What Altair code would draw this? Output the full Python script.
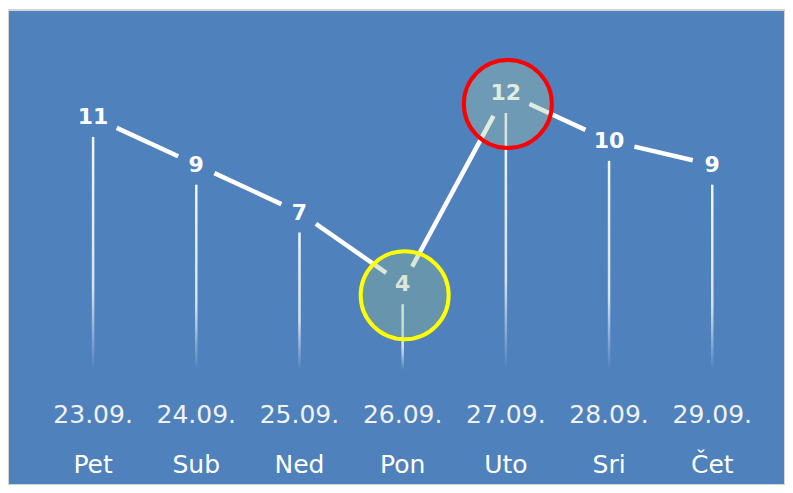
import altair as alt
import pandas as pd
import math

dates = ["23.09.", "24.09.", "25.09.", "26.09.", "27.09.", "28.09.", "29.09."]
days = ["Pet", "Sub", "Ned", "Pon", "Uto", "Sri", "Čet"]
values = [11, 9, 7, 4, 12, 10, 9]

BG = "#4F81BD"
W, H = 777, 475
XD = [-0.8245, 6.705]
YD = [-4.401, 15.473]
px_x = W / (XD[1] - XD[0])
px_y = H / (YD[1] - YD[0])

idx = list(range(len(values)))
df = pd.DataFrame({"i": idx, "v": values, "date": dates, "day": days})
df["top"] = df["v"] - 20 / px_y
df["bottom"] = 0.41


def gap(v):
    return 26 if v >= 10 else 20


segs = []
for k in range(len(values) - 1):
    v1, v2 = values[k], values[k + 1]
    dxp = px_x
    dyp = (v2 - v1) * px_y
    L = math.hypot(dxp, dyp)
    t0 = gap(v1) / L
    t1 = 1 - gap(v2) / L
    segs.append({
        "x": k + t0, "y": v1 + (v2 - v1) * t0,
        "x2": k + t1, "y2": v1 + (v2 - v1) * t1,
    })
seg_df = pd.DataFrame(segs)

imax = values.index(max(values))
imin = values.index(min(values))
circ_df = pd.DataFrame({
    "i": [imax, imin],
    "v": [values[imax], values[imin]],
    "fill": ["#AAC8A6", "#94BA8F"],
    "stroke": ["#FF0000", "#FFFF00"],
})

xs = alt.Scale(domain=XD, nice=False, zero=False, padding=0)
ys = alt.Scale(domain=YD, nice=False, zero=False, padding=0)
X = alt.X("i:Q", scale=xs, axis=None)
Y = alt.Y("v:Q", scale=ys, axis=None)

grad = alt.LinearGradient(
    gradient="linear", x1=0, y1=0, x2=0, y2=1,
    stops=[
        alt.GradientStop(color="#F2F6FB", offset=0),
        alt.GradientStop(color="#D6E2F0", offset=0.65),
        alt.GradientStop(color=BG, offset=1),
    ],
)

drops = alt.Chart(df).mark_bar(size=2.5, color=grad).encode(
    x=X, y=alt.Y("top:Q", scale=ys, axis=None), y2="bottom:Q"
)

lines = alt.Chart(seg_df).mark_rule(color="white", strokeWidth=4.5, strokeCap="butt").encode(
    x=alt.X("x:Q", scale=xs, axis=None), y=alt.Y("y:Q", scale=ys, axis=None),
    x2="x2:Q", y2="y2:Q",
)

labels = alt.Chart(df).mark_text(
    font="DejaVu Sans", fontSize=22, fontWeight="bold", color="white",
    baseline="middle", align="center",
).encode(x=X, y=Y, text="v:Q")

circles = alt.Chart(circ_df).mark_circle(
    size=7744, opacity=1, fillOpacity=0.35, strokeWidth=4, strokeOpacity=1,
    yOffset=11, xOffset=2,
).encode(
    x=X, y=Y,
    fill=alt.Fill("fill:N", scale=None),
    stroke=alt.Stroke("stroke:N", scale=None),
)

date_txt = alt.Chart(df).mark_text(
    font="DejaVu Sans", fontSize=25, color="#F2F2F2", baseline="middle", align="center",
).encode(x=X, y=alt.value(405), text="date:N")

day_txt = alt.Chart(df).mark_text(
    font="DejaVu Sans", fontSize=25, color="white", baseline="middle", align="center",
).encode(x=X, y=alt.value(455), text="day:N")

chart = alt.layer(drops, lines, labels, circles, date_txt, day_txt).properties(
    width=W, height=H,
    autosize=alt.AutoSizeParams(type="none"),
    padding={"left": 0, "top": 2, "right": 0, "bottom": 0},
    background="white",
).configure_view(fill=BG, stroke="#D4D4D4", strokeWidth=2)

chart.save("out.html", embed_options={"renderer": "svg", "actions": False})
